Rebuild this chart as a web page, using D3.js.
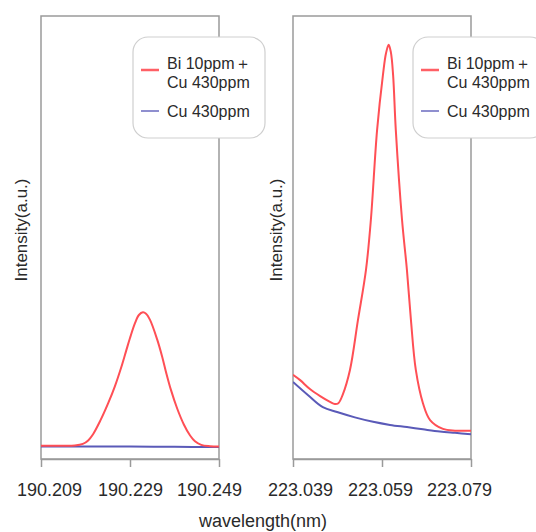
<!DOCTYPE html>
<html>
<head>
<meta charset="utf-8">
<script src="https://cdn.jsdelivr.net/npm/d3@7"></script>
<style>
  html, body { margin: 0; padding: 0; background: #fff; }
  svg { display: block; }
  text { font-family: "Liberation Sans", Arial, sans-serif; fill: #2a2a2a; }
</style>
</head>
<body>
<svg id="chart" width="536" height="532"></svg>
<script>
// ---- data ----
const leftTicks = [190.209, 190.229, 190.249];
const rightTicks = [223.039, 223.059, 223.079];
const seriesNames = ["Bi 10ppm\uFF0B|Cu 430ppm", "Cu 430ppm"];
const yLabel = "Intensity(a.u.)";
const xLabel = "wavelength(nm)";

// left panel (190 nm region): [wavelength, intensity]
const leftBiCu = [
  [190.2090, 3.0], [190.2133, 3.0], [190.2166, 3.05], [190.2184, 3.4], [190.2196, 4.2],
  [190.2207, 5.6], [190.2223, 8.6], [190.2241, 12.6], [190.2256, 16.4], [190.2270, 20.6],
  [190.2281, 24.3], [190.2290, 27.3], [190.2301, 30.6], [190.2310, 32.5], [190.2319, 33.1],
  [190.2326, 32.8], [190.2335, 31.4], [190.2351, 27.0], [190.2362, 23.2], [190.2371, 19.6],
  [190.2382, 15.6], [190.2396, 11.4], [190.2411, 7.8], [190.2425, 5.3], [190.2436, 4.0],
  [190.2450, 3.2], [190.2470, 2.9], [190.2490, 2.8]
];
const leftCu = [
  [190.2090, 2.85], [190.2190, 2.82], [190.2290, 2.8], [190.2390, 2.75], [190.2490, 2.7]
];

// right panel (223 nm region)
const rightBiCu = [
  [223.0390, 19.0], [223.0406, 17.8], [223.0428, 15.8], [223.0451, 14.2], [223.0473, 12.9],
  [223.0484, 12.4], [223.0492, 12.6], [223.0502, 14.6], [223.0518, 20.1], [223.0536, 31.4], [223.0554, 42.7],
  [223.0565, 54.0], [223.0579, 74.3], [223.0592, 86.6], [223.0599, 91.6], [223.0605, 93.5],
  [223.0610, 91.8], [223.0615, 86.6], [223.0621, 74.3], [223.0635, 54.0], [223.0646, 42.7],
  [223.0655, 31.4], [223.0666, 20.1], [223.0682, 12.6], [223.0698, 8.8], [223.0727, 6.8],
  [223.0754, 6.4], [223.0790, 6.4]
];
const rightCu = [
  [223.0390, 17.4], [223.0424, 14.4], [223.0457, 11.7], [223.0489, 10.6], [223.0529, 9.4],
  [223.0570, 8.4], [223.0608, 7.7], [223.0646, 7.2], [223.0682, 6.7], [223.0720, 6.2],
  [223.0754, 5.9], [223.0790, 5.6]
];

const colors = ["#ff4f55", "#5a5ab8"];

// ---- drawing ----
const svg = d3.select("#chart");
const plotTop = 16, plotBottom = 459;

const panels = [
  { x0: 41, x1: 219, ticks: leftTicks, series: [leftBiCu, leftCu], labelX: 21, legendX: 133, dx: [8, 0, -10] },
  { x0: 293, x1: 471, ticks: rightTicks, series: [rightBiCu, rightCu], labelX: 276, legendX: 413, dx: [7, -2, -12] }
];

panels.forEach((p, i) => {
  const x = d3.scaleLinear().domain([p.ticks[0], p.ticks[p.ticks.length - 1]]).range([p.x0, p.x1]);
  const y = d3.scaleLinear().domain([0, 100]).range([plotBottom, plotTop]);
  const g = svg.append("g");

  const clipId = "clip" + i;
  svg.append("clipPath").attr("id", clipId)
    .append("rect").attr("x", p.x0).attr("y", plotTop).attr("width", p.x1 - p.x0).attr("height", plotBottom - plotTop);

  // frame
  g.append("rect")
    .attr("x", p.x0).attr("y", plotTop).attr("width", p.x1 - p.x0).attr("height", plotBottom - plotTop)
    .attr("fill", "none").attr("stroke", "#9a9a9a").attr("stroke-width", 1.5);

  // x axis
  const ax = g.append("g").attr("transform", `translate(0,${plotBottom})`)
    .call(d3.axisBottom(x).tickValues(p.ticks).tickFormat(d3.format(".3f")).tickSize(8).tickSizeOuter(0).tickPadding(16));
  ax.select(".domain").attr("stroke", "#9a9a9a").attr("stroke-width", 1.5);
  ax.selectAll(".tick line").attr("stroke", "#9a9a9a").attr("stroke-width", 1.5);
  ax.selectAll(".tick text").attr("font-size", 18).attr("fill", "#2a2a2a")
    .attr("font-family", "'Liberation Sans', Arial, sans-serif")
    .attr("dx", (d, j) => p.dx[j]);

  // lines (draw Cu first so Bi+Cu on top)
  const line = d3.line().x(d => x(d[0])).y(d => y(d[1])).curve(d3.curveCatmullRom.alpha(0.5));
  [1, 0].forEach(k => {
    g.append("path").datum(p.series[k])
      .attr("clip-path", `url(#${clipId})`)
      .attr("fill", "none").attr("stroke", colors[k]).attr("stroke-width", 2)
      .attr("d", line);
  });

  // y label
  g.append("text")
    .attr("transform", `translate(${p.labelX},230) rotate(-90)`)
    .attr("text-anchor", "middle").attr("dominant-baseline", "central")
    .attr("font-size", 17).text(yLabel);

  // legend
  const lg = g.append("g");
  lg.append("rect").attr("x", p.legendX).attr("y", 37).attr("width", 132).attr("height", 101)
    .attr("rx", 15).attr("ry", 15).attr("fill", "#fff").attr("stroke", "#cfcfcf").attr("stroke-width", 1.2);
  const lx = p.legendX + 8;
  const rows = [
    { lineY: 70, lines: seriesNames[0].split("|"), baselines: [69, 88] },
    { lineY: 111, lines: [seriesNames[1]], baselines: [117] }
  ];
  rows.forEach((r, k) => {
    lg.append("line").attr("x1", lx).attr("x2", lx + 18).attr("y1", r.lineY).attr("y2", r.lineY)
      .attr("stroke", colors[k]).attr("stroke-width", k === 0 ? 2.5 : 1.5).attr("opacity", 0.9);
    r.lines.forEach((t, j) => {
      lg.append("text").attr("x", lx + 26).attr("y", r.baselines[j]).attr("font-size", 16).text(t);
    });
  });
});

svg.append("text").attr("x", 263).attr("y", 527).attr("text-anchor", "middle")
  .attr("font-size", 18).text(xLabel);
</script>
</body>
</html>
